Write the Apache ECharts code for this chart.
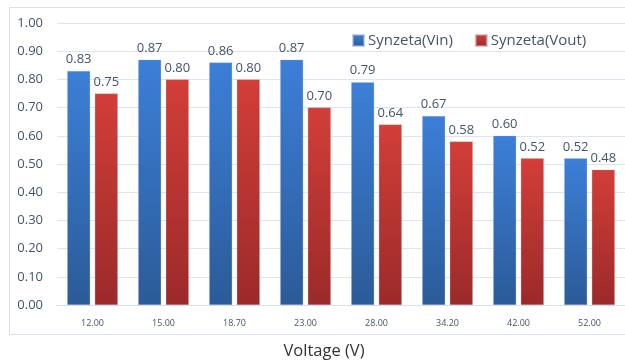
<!DOCTYPE html>
<html>
<head>
<meta charset="utf-8">
<script src="https://cdn.jsdelivr.net/npm/echarts@6/dist/echarts.min.js"></script>
<style>
  html, body { margin: 0; padding: 0; background: #ffffff; }
  #chart { width: 625px; height: 363px; }
</style>
</head>
<body>
<div id="chart"></div>
<script>
// Input voltage levels (x categories)
const voltages = ['12.00', '15.00', '18.70', '23.00', '28.00', '34.20', '42.00', '52.00'];
// Efficiency measured at the input side
const vinValues = [0.83, 0.87, 0.86, 0.87, 0.79, 0.67, 0.60, 0.52];
// Efficiency measured at the output side
const voutValues = [0.75, 0.80, 0.80, 0.70, 0.64, 0.58, 0.52, 0.48];
const seriesNames = ['Synzeta(Vin)', 'Synzeta(Vout)'];
const xAxisTitle = 'Voltage (V)';

const FONT = '"Open Sans", "Liberation Sans", sans-serif';
const TEXT = '#44546A';

function grad(top, bottom) {
  return new echarts.graphic.LinearGradient(0, 0, 0, 1, [
    { offset: 0, color: top },
    { offset: 1, color: bottom }
  ]);
}

const chart = echarts.init(document.getElementById('chart'), null, { renderer: 'canvas' });

const labelStyle = {
  show: true,
  position: 'top',
  distance: 5,
  color: TEXT,
  fontFamily: FONT,
  fontSize: 13,
  formatter: p => p.value.toFixed(2)
};

chart.setOption({
  animation: false,
  backgroundColor: '#ffffff',
  graphic: [
    {
      type: 'rect',
      left: 7, top: 5,
      shape: { width: 660, height: 327 },
      style: { fill: 'none', stroke: '#D6E0EE', lineWidth: 1 },
      z: -1
    },
    {
      type: 'text',
      x: 324, y: 351,
      style: {
        text: xAxisTitle,
        fill: '#333333',
        font: '16.5px ' + FONT,
        align: 'center',
        verticalAlign: 'middle'
      }
    }
  ],
  legend: {
    left: 347,
    top: 28,
    itemWidth: 11,
    itemHeight: 11,
    itemGap: 22,
    icon: 'rect',
    textStyle: { color: TEXT, fontFamily: FONT, fontSize: 15, padding: [0, 0, 0, -1] },
    data: seriesNames
  },
  grid: {
    left: 57,
    top: 23,
    width: 576,
    bottom: 58,
    containLabel: false
  },
  xAxis: {
    type: 'category',
    data: voltages,
    axisLine: { show: true, lineStyle: { color: '#D6E0EE', width: 1 } },
    axisTick: { show: false },
    axisLabel: {
      color: TEXT,
      fontFamily: FONT,
      fontSize: 9,
      margin: 14
    }
  },
  yAxis: {
    type: 'value',
    min: 0,
    max: 1,
    interval: 0.1,
    axisLine: { show: false },
    axisTick: { show: false },
    splitLine: { lineStyle: { color: '#DCE5F1', width: 1 } },
    axisLabel: {
      color: TEXT,
      fontFamily: FONT,
      fontSize: 13,
      margin: 14,
      formatter: v => v.toFixed(2)
    }
  },
  series: [
    {
      name: seriesNames[0],
      type: 'bar',
      data: vinValues,
      barWidth: 23,
      barGap: '20%',
      itemStyle: {
        color: grad('#3C7FD8', '#2B5B98'),
        borderColor: 'rgba(160,180,210,0.6)',
        borderWidth: 0.5
      },
      label: labelStyle
    },
    {
      name: seriesNames[1],
      type: 'bar',
      data: voutValues,
      barWidth: 23,
      itemStyle: {
        color: grad('#D23E38', '#9B2A2A'),
        borderColor: 'rgba(200,160,160,0.6)',
        borderWidth: 0.5
      },
      label: labelStyle
    }
  ]
});
</script>
</body>
</html>
